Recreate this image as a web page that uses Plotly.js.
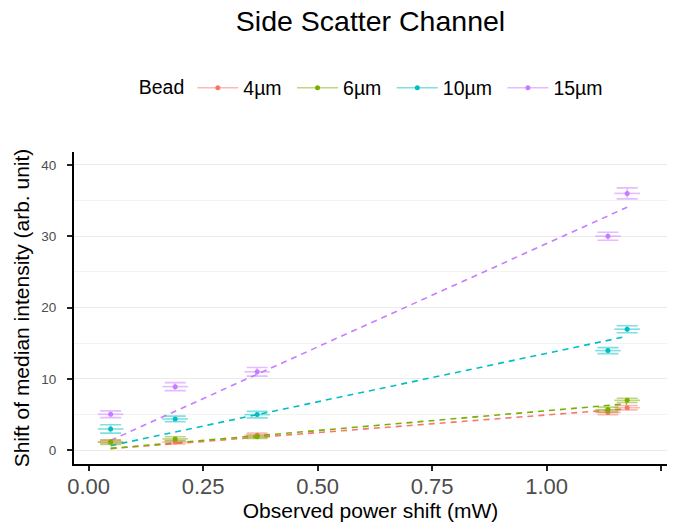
<!DOCTYPE html>
<html><head><meta charset="utf-8">
<script src="https://cdn.plot.ly/plotly-3.0.1.min.js"></script>
<style>html,body{margin:0;padding:0;background:#fff;}#chart{width:681px;height:529px;}</style>
</head><body><div id="chart"></div>
<script>
// ---- data ----
const beads = ['4µm', '6µm', '10µm', '15µm'];
const colors = ['#F8766D', '#7CAE00', '#00BFC4', '#C77CFF'];
const powerShift = [0.048, 0.189, 0.368, 1.134, 1.176];   // mW
const powerErr = [0.028, 0.028, 0.028, 0.028, 0.028];
const shift4 = [1.2, 1.15, 2.1, 5.3, 5.97];
const shift6 = [1.12, 1.6, 1.9, 5.7, 7.0];
const shift10 = [2.99, 4.39, 5.0, 13.97, 16.97];
const shift15 = [5.05, 8.92, 11.0, 30.0, 36.0];
const err4 = [0.25, 0.25, 0.3, 0.3, 0.3];
const err6 = [0.3, 0.3, 0.25, 0.35, 0.3];
const err10 = [0.58, 0.4, 0.45, 0.42, 0.49];
const err15 = [0.47, 0.56, 0.6, 0.56, 0.77];
const xTicks = [0, 0.25, 0.5, 0.75, 1.0, 1.25];

const shifts = [shift4, shift6, shift10, shift15];
const errs = [err4, err6, err10, err15];

function rgba(hex, a) {
  const n = parseInt(hex.slice(1), 16);
  return 'rgba(' + ((n >> 16) & 255) + ',' + ((n >> 8) & 255) + ',' + (n & 255) + ',' + a + ')';
}
// least squares fit through the origin (y ~ 0 + x)
function fitOrigin(x, y) {
  let sxy = 0, sxx = 0;
  for (let i = 0; i < x.length; i++) { sxy += x[i] * y[i]; sxx += x[i] * x[i]; }
  return sxy / sxx;
}

const traces = [];
const xmin = Math.min(...powerShift), xmax = Math.max(...powerShift);
beads.forEach((b, i) => {
  const slope = fitOrigin(powerShift, shifts[i]);
  traces.push({
    type: 'scatter', mode: 'lines', x: [xmin, xmax], y: [slope * xmin, slope * xmax],
    line: {color: colors[i], width: 1.6, dash: '6px,5px'}, showlegend: false, hoverinfo: 'skip'
  });
});
beads.forEach((b, i) => {
  traces.push({
    type: 'scatter', mode: 'markers', x: powerShift, y: shifts[i], showlegend: false,
    marker: {color: colors[i], size: 5},
    error_y: {type: 'data', array: errs[i], visible: true, color: rgba(colors[i], 0.5), thickness: 1.6, width: 10.5},
    error_x: {type: 'data', array: powerErr, visible: true, color: rgba(colors[i], 0.5), thickness: 1.6, width: 0}
  });
});
beads.forEach((b, i) => {
  traces.push({
    type: 'scatter', mode: 'lines+markers', x: [null], y: [null], name: b + '\u00a0',
    line: {color: rgba(colors[i], 0.5), width: 1.5}, marker: {color: colors[i], size: 5}
  });
});

const shapes = xTicks.map(t => ({
  type: 'line', xref: 'x', yref: 'paper', x0: t, x1: t, y0: 0.005, y1: 1,
  line: {color: '#ffffff', width: 2.5}, layer: 'between'
}));

const layout = {
  width: 681, height: 529,
  margin: {l: 74, r: 14, t: 152, b: 65},
  paper_bgcolor: '#fff', plot_bgcolor: '#fff',
  font: {family: 'Liberation Sans, Arial, sans-serif', color: '#000'},
  title: {text: 'Side Scatter Channel', font: {size: 28.5, color: '#000'},
          x: 0.5, xref: 'paper', xanchor: 'center', y: 1 - 21 / 529, yref: 'container', yanchor: 'middle'},
  showlegend: true,
  legend: {orientation: 'h', x: 0.508, xanchor: 'center', y: 1.205, yanchor: 'middle', itemwidth: 41,
           font: {size: 19.5, color: '#000'}, title: {text: 'Bead', side: 'left', font: {size: 19.5}},
           bgcolor: 'rgba(0,0,0,0)'},
  xaxis: {
    range: [-0.032, 1.263], tickvals: xTicks, tickformat: '.2f',
    showgrid: false, zeroline: false,
    showline: true, linecolor: '#000', linewidth: 2,
    ticks: 'outside', ticklen: 5, tickwidth: 2, tickcolor: '#222',
    ticklabelstandoff: -3,
    tickfont: {size: 22, color: '#4d4d4d'},
    title: {text: 'Observed power shift (mW)', font: {size: 21, color: '#000'}, standoff: 4}
  },
  yaxis: {
    range: [-1.92, 41.8], dtick: 10, tick0: 0,
    showgrid: true, gridcolor: '#ebebeb', gridwidth: 1, zeroline: false,
    minor: {dtick: 5, tick0: 0, showgrid: true, gridcolor: '#f3f3f3', gridwidth: 1, ticks: ''},
    showline: true, linecolor: '#000', linewidth: 2,
    ticks: 'outside', ticklen: 5, tickwidth: 2, tickcolor: '#222',
    ticklabelstandoff: 8,
    tickfont: {size: 13.5, color: '#4d4d4d'},
    title: {text: 'Shift of median intensity (arb. unit)', font: {size: 21, color: '#000'}, standoff: 6}
  },
  shapes: shapes,
  hovermode: false
};
Plotly.newPlot('chart', traces, layout, {displayModeBar: false, staticPlot: true});
</script></body></html>
